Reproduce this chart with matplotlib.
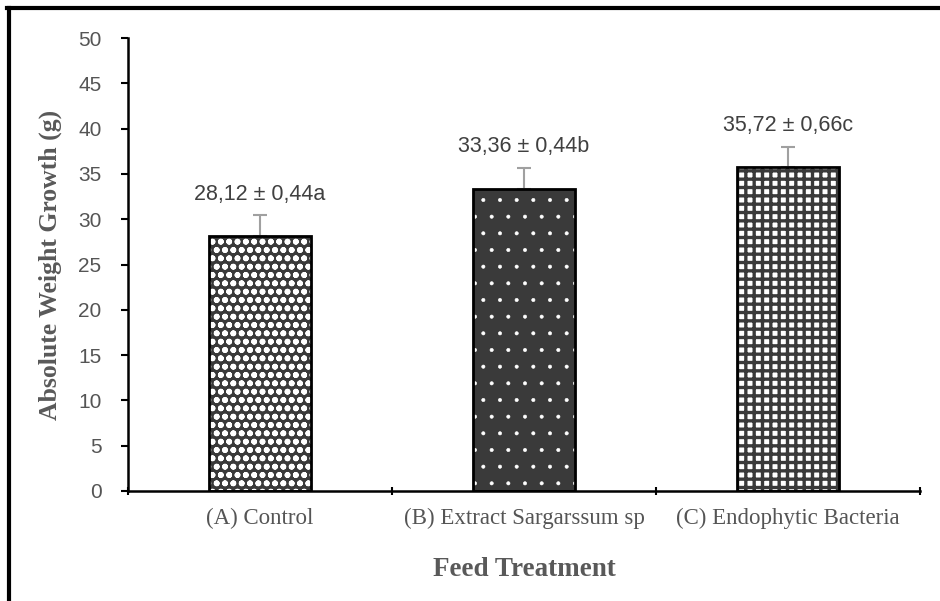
import matplotlib.pyplot as plt
from matplotlib.lines import Line2D

categories = ["(A) Control", "(B) Extract Sargarssum sp", "(C) Endophytic Bacteria"]
means = [28.12, 33.36, 35.72]
errors = [2.3, 2.3, 2.3]
labels = ["28,12 ± 0,44a", "33,36 ± 0,44b", "35,72 ± 0,66c"]

# pattern per bar: (face, hatch colour, hatch, hatch width)
patterns = [("#3a3a3a", "white", "oo", 1.8), ("#3a3a3a", "white", ".", 0.4),
            ("white", "#3a3a3a", "++", 2.4)]

fig = plt.figure(figsize=(9.4, 6.01), dpi=100)
ax = fig.add_axes([128 / 940, 1 - 491 / 601, (920 - 128) / 940, (491 - 38) / 601])

x = list(range(len(categories)))
for i in x:
    face, hc, h, hw = patterns[i]
    with plt.rc_context({"hatch.linewidth": hw}):
        ax.bar(i, means[i], width=0.39, color=face, edgecolor=hc, hatch=h, linewidth=0, zorder=2)
    ax.bar(i, means[i], width=0.39, fill=False, edgecolor="black", linewidth=2, zorder=3)

ax.errorbar(x, means, yerr=[[0] * 3, errors], fmt="none", ecolor="#a0a0a0",
            elinewidth=1.5, capsize=5, capthick=1.5, zorder=1)

for i in x:
    ax.text(i, means[i] + errors[i] + 1.2, labels[i], ha="center", va="bottom",
            fontsize=15.5, color="#404040", family="Liberation Sans")

ax.set_xlim(-0.5, 2.5)
ax.set_ylim(0, 50)
ax.set_yticks(range(0, 51, 5))
ax.set_yticklabels([str(v) for v in range(0, 51, 5)], family="Liberation Sans",
                   fontsize=15, color="#555555")
ax.set_xticks([-0.5, 0.5, 1.5, 2.5])
ax.set_xticklabels([])
ax.set_xticks(x, minor=True)
ax.set_xticklabels(categories, minor=True, family="Liberation Serif", fontsize=16.5, color="#555555")
ax.tick_params(axis="x", which="minor", length=0, pad=12)
ax.tick_params(axis="x", which="major", length=6, width=1.5, direction="inout")
ax.tick_params(axis="y", length=5, width=1.5, direction="out", pad=14)

for s in ["top", "right"]:
    ax.spines[s].set_visible(False)
for s in ["left", "bottom"]:
    ax.spines[s].set_linewidth(1.8)

ax.set_ylabel("Absolute Weight Growth (g)", family="Liberation Serif", fontweight="bold",
              fontsize=18.5, color="#595959", labelpad=12)
ax.set_xlabel("Feed Treatment", family="Liberation Serif", fontweight="bold",
              fontsize=19.5, color="#595959", labelpad=20)

# outer frame (left and top edges only)
fig.add_artist(Line2D([8.5 / 940, 8.5 / 940], [0, 1 - 7.5 / 601], transform=fig.transFigure,
                      color="black", linewidth=3))
fig.add_artist(Line2D([7 / 940, 1], [1 - 7.5 / 601, 1 - 7.5 / 601], transform=fig.transFigure,
                      color="black", linewidth=3))

plt.savefig("out.png", dpi=100, facecolor="white")
